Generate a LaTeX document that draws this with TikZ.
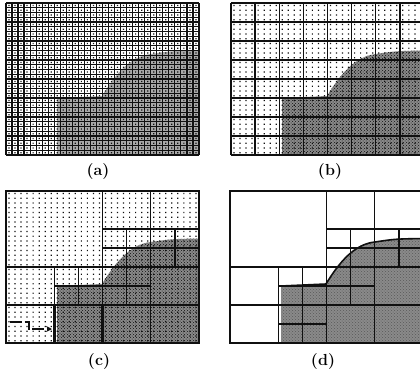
\documentclass[tikz,border=0pt]{standalone}
\usepackage{tikz}
\usetikzlibrary{arrows.meta,patterns}
\definecolor{ink}{HTML}{101010}
\definecolor{speck}{HTML}{8A8A8A}
\definecolor{haze}{HTML}{A8A8A8}

% shaded object, in panel coordinates (193 x 152)
\newcommand{\regionpath}{(51,152) -- (51,95) -- (96,93) .. controls (110,70) and (125,53) .. (145,51) .. controls (165,48) .. (193,47.5) -- (193,152) -- cycle}
\newcommand{\dotfield}{\fill[ink] \foreach \i in {0,...,31} {\foreach \j in {0,...,31} {(\i*6.03+2.4,\j*4.75+1.8) rectangle ++(1.2,1.2)}};}

\begin{document}
\begin{tikzpicture}[
  x=1pt, y=-1pt,
  fine/.style={draw=ink, line width=1.2pt},
  coarse/.style={draw=ink, line width=1.4pt},
  chosen/.style={draw=ink, line width=2.8pt},
  boundary/.style={draw=ink, line width=1.6pt},
  trail/.style={draw=ink, line width=1.8pt, dash pattern=on 12pt off 2.5pt, -{Stealth[length=6pt,width=6pt]}},
  lbl/.style={font=\fontsize{16}{18}\selectfont\bfseries},
]
\useasboundingbox (0,0) rectangle (420,375);

% ---------- (a): full resolution grid ----------
\begin{scope}[shift={(6,3)}]
  \fill[haze] \regionpath;
  \dotfield
  \foreach \i in {0,...,32} \draw[fine] (\i*6.03,0) -- (\i*6.03,152);
  \foreach \j in {0,...,32} \draw[fine] (0,\j*4.75) -- (193,\j*4.75);
\end{scope}
\node[lbl] (lbla) at (98,172) {(a)};

% ---------- (b): regular coarse grid ----------
\begin{scope}[shift={(231,3)}]
  \clip (-2,-2) rectangle (189,154);
  \fill[speck] \regionpath;
  \fill[pattern=crosshatch dots, pattern color=ink] \regionpath;
  \dotfield
  \foreach \i in {0,...,8} \draw[coarse] (\i*24.125,0) -- (\i*24.125,152);
  \foreach \j in {0,...,8} \draw[coarse] (0,\j*19) -- (193,\j*19);
\end{scope}
\node[lbl] (lblb) at (330,172) {(b)};

% ---------- (c): quadtree, one block picked ----------
\begin{scope}[shift={(6,191)}]
  \fill[speck] \regionpath;
  \fill[pattern=crosshatch dots, pattern color=ink] \regionpath;
  \dotfield
  \draw[coarse] (0,0) rectangle (193,152);
  \draw[coarse] (96.5,0) -- (96.5,152);
  \draw[coarse] (144.75,0) -- (144.75,152);
  \draw[coarse] (0,76) -- (193,76);
  \draw[coarse] (0,114) -- (193,114);
  \draw[coarse] (96.5,38) -- (193,38);
  \draw[coarse] (96.5,57) -- (193,57);
  \draw[coarse] (120.625,38) -- (120.625,114);
  \draw[coarse] (168.875,38) -- (168.875,76);
  \draw[coarse] (48.25,76) -- (48.25,152);
  \draw[coarse] (72.375,76) -- (72.375,114);
  \draw[coarse] (48.25,95) -- (144.75,95);
  \draw[chosen] (48.25,114) rectangle (96.5,152);
  \coordinate (trailstart) at (4,131);
  \coordinate (trailend) at (46,138);
  \draw[trail] (trailstart) -| (23,138) -- (trailend);
\end{scope}
\node[lbl] (lblc) at (99,362) {(c)};

% ---------- (d): refined quadtree with boundary ----------
\begin{scope}[shift={(230,191)}]
  \clip (-2,-2) rectangle (190,154);
  \fill[speck] \regionpath;
  \fill[pattern=crosshatch dots, pattern color=ink!70] \regionpath;
  \draw[coarse] (0,0) rectangle (193,152);
  \draw[coarse] (96.5,0) -- (96.5,152);
  \draw[coarse] (144.75,0) -- (144.75,152);
  \draw[coarse] (0,76) -- (193,76);
  \draw[coarse] (0,114) -- (193,114);
  \draw[coarse] (96.5,38) -- (193,38);
  \draw[coarse] (96.5,57) -- (193,57);
  \draw[coarse] (120.625,38) -- (120.625,114);
  \draw[coarse] (168.875,38) -- (168.875,76);
  \draw[coarse] (48.25,76) -- (48.25,152);
  \draw[coarse] (72.375,76) -- (72.375,152);
  \draw[coarse] (48.25,95) -- (144.75,95);
  \draw[coarse] (48.25,133) -- (96.5,133);
  \draw[boundary] (51,95) -- (96,93) .. controls (110,70) and (125,53) .. (145,51) .. controls (165,48) .. (193,47.5);
\end{scope}
\node[lbl] (lbld) at (323,362) {(d)};
\end{tikzpicture}
\end{document}
